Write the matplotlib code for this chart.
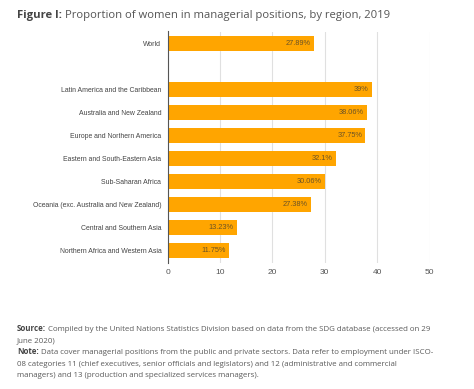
import matplotlib
matplotlib.use("Agg")
from matplotlib import pyplot as plt

regions = ["World", "",
           "Latin America and the Caribbean",
           "Australia and New Zealand",
           "Europe and Northern America",
           "Eastern and South-Eastern Asia",
           "Sub-Saharan Africa",
           "Oceania (exc. Australia and New Zealand)",
           "Central and Southern Asia",
           "Northern Africa and Western Asia"]
values = [27.89, None, 39.0, 38.06, 37.75, 32.1, 30.06, 27.38, 13.23, 11.75]
value_labels = ["27.89%", "", "39%", "38.06%", "37.75%", "32.1%", "30.06%",
                "27.38%", "13.23%", "11.75%"]
x_ticks = [0, 10, 20, 30, 40, 50]

W, H = 474, 389
fig = plt.figure(figsize=(W / 100, H / 100), dpi=100)
plt.rcParams['font.family'] = ['Open Sans', 'DejaVu Sans']

ax = fig.add_axes([167.5 / W, 1 - 262.5 / H, (429.5 - 167.5) / W, (262.5 - 31.5) / H])

ypos = list(range(len(regions)))
for y, v, lab in zip(ypos, values, value_labels):
    if v is None:
        continue
    ax.barh(y, v, height=0.65, color="#FFA500", zorder=3)
    ax.text(v - 0.6, y, lab, ha="right", va="center", fontsize=5.3,
            color="#6b5326", family="Liberation Sans", zorder=4)

ax.set_ylim(len(regions) - 0.5, -0.5)
ax.set_xlim(0, 50)
ax.set_yticks(ypos)
ax.set_yticklabels(regions, fontsize=4.95, color="#444444", family="Liberation Sans")
ax.set_xticks(x_ticks)
ax.set_xticklabels([str(t) for t in x_ticks], fontsize=6, color="#555555",
                   family="Liberation Sans")
ax.tick_params(axis="both", length=0)
ax.tick_params(axis="y", pad=4.5)
ax.tick_params(axis="x", pad=5)
ax.grid(axis="x", color="#e0e0e0", linewidth=0.8, zorder=0)
for s in ["top", "right", "bottom"]:
    ax.spines[s].set_visible(False)
ax.spines["left"].set_color("#555555")
ax.spines["left"].set_linewidth(0.8)
ax.spines["left"].set_zorder(5)

renderer = fig.canvas.get_renderer()


def rich_line(x, y, bold, rest, size, color, bold_color=None):
    t = fig.text(x / W, 1 - y / H, bold, fontsize=size, fontweight="bold",
                 color=bold_color or color, va="baseline", ha="left")
    bb = t.get_window_extent(renderer=renderer)
    fig.text((bb.x1 + size * 0.35) / W, 1 - y / H, rest, fontsize=size,
             color=color, va="baseline", ha="left")


rich_line(17, 18, "Figure I:", "Proportion of women in managerial positions, by region, 2019",
          8.1, "#555555", "#444444")

foot = 5.7
fc = "#5a5a5a"
rich_line(17, 331, "Source:", "Compiled by the United Nations Statistics Division based on data from the SDG database (accessed on 29",
          foot, fc, "#444444")
fig.text(17 / W, 1 - 342.5 / H, "June 2020)", fontsize=foot, color=fc, va="baseline")
rich_line(17, 354, "Note:", "Data cover managerial positions from the public and private sectors. Data refer to employment under ISCO-",
          foot, fc, "#444444")
fig.text(17 / W, 1 - 365.5 / H, "08 categories 11 (chief executives, senior officials and legislators) and 12 (administrative and commercial",
         fontsize=foot, color=fc, va="baseline")
fig.text(17 / W, 1 - 377 / H, "managers) and 13 (production and specialized services managers).",
         fontsize=foot, color=fc, va="baseline")

fig.savefig("out.png", dpi=100)
